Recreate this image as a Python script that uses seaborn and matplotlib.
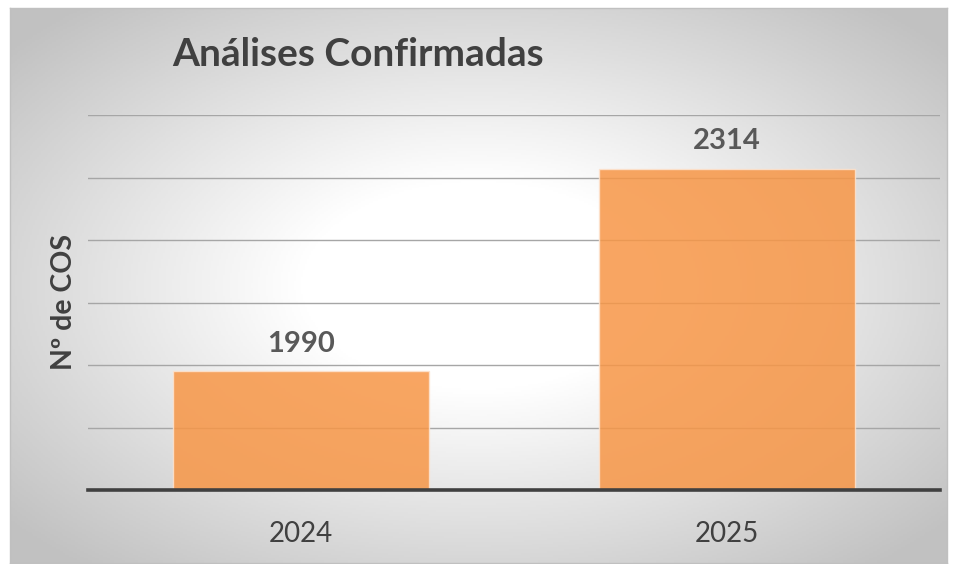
import numpy as np
import pandas as pd
import seaborn as sns
import matplotlib.pyplot as plt

# Data
anos = ['2024', '2025']
analises = [1990, 2314]
titulo = 'Análises Confirmadas'
eixo_y = 'Nº de COS'

df = pd.DataFrame({'ano': anos, 'total': analises})

plt.rcParams['font.family'] = ['Lato', 'DejaVu Sans']

W, H = 957, 564
fig = plt.figure(figsize=(W / 100, H / 100), dpi=100)
fig.patch.set_facecolor('white')

# Radial gradient background of the chart frame
bg = fig.add_axes([10 / W, 1 - 563 / H, 937 / W, 555 / H], zorder=0)
yy, xx = np.mgrid[-1:1:300j, -1:1:500j]
r = np.sqrt(xx**2 + yy**2)
shade = 255 - 62 * np.clip((r - 0.38) / 0.95, 0, 1)
img = np.dstack([shade, shade, shade]).astype(np.uint8)
bg.imshow(img, aspect='auto', extent=[0, 1, 0, 1], interpolation='bilinear')
bg.set_xticks([])
bg.set_yticks([])
for s in bg.spines.values():
    s.set_color('#c0c0c0')
    s.set_linewidth(1)

# Plot area
ax = fig.add_axes([88 / W, 1 - 490 / H, 852 / W, 375 / H], zorder=1)
ax.patch.set_alpha(0)

sns.barplot(data=df, x='ano', y='total', color='#F79646', alpha=0.85,
            width=0.6, edgecolor='#FDE3CF', linewidth=1, saturation=1,
            ax=ax, zorder=3)

ax.set_ylim(1800, 2400)
ax.set_yticks(np.arange(1800, 2401, 100))
ax.set_yticklabels([])
ax.grid(axis='y', color='#a6a6a6', linewidth=1, zorder=1)
ax.set_axisbelow(True)
ax.axhline(1800, color='#404040', linewidth=2.6, zorder=4, clip_on=False)
for s in ax.spines.values():
    s.set_visible(False)
ax.tick_params(axis='both', length=0)
ax.tick_params(axis='x', pad=22, labelsize=20, labelcolor='#404040')
ax.set_xlabel('')
ax.set_ylabel('')

for i, v in enumerate(analises):
    ax.annotate(str(v), (i, v), xytext=(0, 14), textcoords='offset points',
                ha='center', va='baseline', fontsize=21, fontweight='bold',
                color='#595959')

fig.text(172 / W, 1 - 55 / H, titulo, fontsize=28, fontweight='bold',
         color='#404040', ha='left', va='center')
fig.text(64 / W, 1 - 302 / H, eixo_y, fontsize=20.5, fontweight='bold',
         color='#404040', rotation=90, ha='center', va='center')

fig.savefig('out.png', dpi=100)
